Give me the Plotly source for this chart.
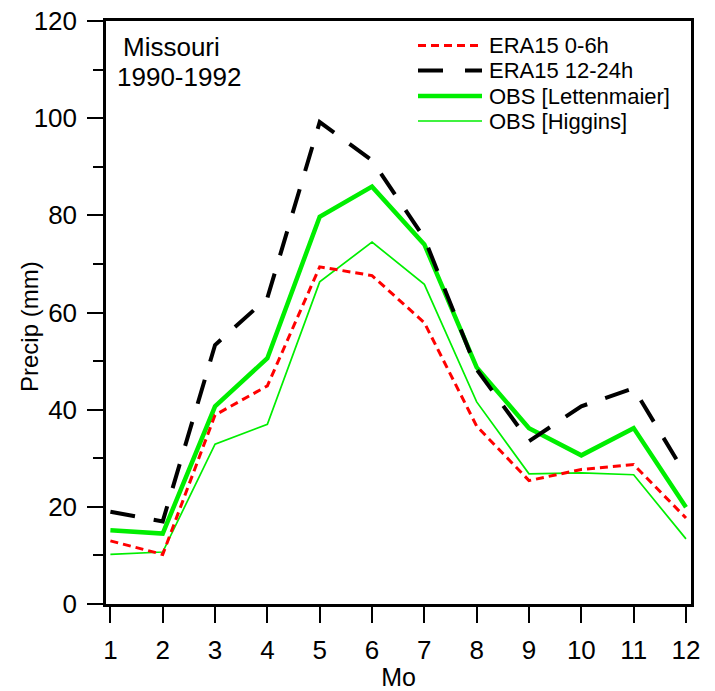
import plotly.graph_objects as go

months = list(range(1, 13))
era15_0_6h = [13.0, 10.2, 38.9, 44.9, 69.4, 67.6, 57.9, 36.6, 25.4, 27.7, 28.7, 17.7]
era15_12_24h = [19.0, 17.0, 53.3, 63.0, 99.2, 91.3, 75.3, 48.3, 33.5, 40.7, 44.4, 26.5]
obs_lettenmaier = [15.2, 14.5, 40.7, 50.6, 79.7, 85.9, 74.0, 48.7, 36.2, 30.6, 36.2, 19.9]
obs_higgins = [10.2, 10.7, 32.9, 37.0, 66.3, 74.5, 65.8, 41.6, 26.8, 27.0, 26.6, 13.4]

series_names = ["ERA15 0-6h", "ERA15 12-24h", "OBS [Lettenmaier]", "OBS [Higgins]"]
y_ticks = [0, 20, 40, 60, 80, 100, 120]

GREEN = "rgb(0,238,0)"
styles = [
    dict(color="red", width=3, dash="8px,5px"),
    dict(color="black", width=4, dash="25px,19px"),
    dict(color=GREEN, width=4.5, dash="solid"),
    dict(color=GREEN, width=1.7, dash="solid"),
]
legend_dash = ["8px,5px", "25px,22px", "solid", "solid"]
data = [era15_0_6h, era15_12_24h, obs_lettenmaier, obs_higgins]

FONT = "Arial, Liberation Sans, sans-serif"
W, H = 715, 691
L, R, T, B = 106, 24, 21, 87

fig = go.Figure()
for idx in [3, 2, 0, 1]:
    fig.add_trace(go.Scatter(x=months, y=data[idx], mode="lines", name=series_names[idx],
                             line=styles[idx], showlegend=False, hoverinfo="skip"))

def px2paper(px, py):
    return (px - L) / (W - L - R), (H - B - py) / (H - T - B)

rows_y = [45.5, 70.5, 96, 121]
for i, name in enumerate(series_names):
    x0, y0 = px2paper(418, rows_y[i])
    x1, _ = px2paper(482, rows_y[i])
    st = styles[i]
    fig.add_shape(type="line", xref="paper", yref="paper", x0=x0, x1=x1, y0=y0, y1=y0,
                  line=dict(color=st["color"], width=st["width"], dash=legend_dash[i]))
    tx, ty = px2paper(487, rows_y[i])
    fig.add_annotation(xref="paper", yref="paper", x=tx, y=ty, text=name, showarrow=False,
                       xanchor="left", yanchor="middle", font=dict(size=22, color="black", family=FONT))

ax, ay = px2paper(121, 47)
fig.add_annotation(xref="paper", yref="paper", x=ax, y=ay, text="Missouri", showarrow=False,
                   xanchor="left", yanchor="middle", font=dict(size=26, color="black", family=FONT))
ax, ay = px2paper(115, 77)
fig.add_annotation(xref="paper", yref="paper", x=ax, y=ay, text="1990-1992", showarrow=False,
                   xanchor="left", yanchor="middle", font=dict(size=26, color="black", family=FONT))

# y-axis title as rotated annotation
ax, ay = px2paper(29, 327)
fig.add_annotation(xref="paper", yref="paper", x=ax, y=ay, text="Precip (mm)", showarrow=False,
                   textangle=-90, xanchor="center", yanchor="middle",
                   font=dict(size=24, color="black", family=FONT))

fig.update_layout(
    width=W, height=H,
    margin=dict(l=L, r=R, t=T, b=B, autoexpand=False),
    plot_bgcolor="white", paper_bgcolor="white",
    font=dict(family=FONT, color="black"),
    xaxis=dict(range=[0.916, 12.096], tickvals=months, ticks="outside", ticklen=16, tickwidth=2,
               tickcolor="black", showline=True, linewidth=2.5, linecolor="black", mirror=True,
               showgrid=False, zeroline=False, tickfont=dict(size=26), automargin=False,
               ticklabelstandoff=5,
               title=dict(text="Mo", font=dict(size=25), standoff=14)),
    yaxis=dict(range=[0, 120], tickvals=y_ticks, ticks="outside", ticklen=16, tickwidth=2,
               tickcolor="black", showline=True, linewidth=2.5, linecolor="black", mirror=True,
               showgrid=False, zeroline=False, tickfont=dict(size=26), automargin=False,
               ticklabelstandoff=5,
               minor=dict(dtick=10, ticks="outside", ticklen=10, tickwidth=2, tickcolor="black")),
)

fig.write_html("out.html", config={"displayModeBar": False},
               post_script="document.body.style.margin='0';document.body.style.overflow='hidden';")
